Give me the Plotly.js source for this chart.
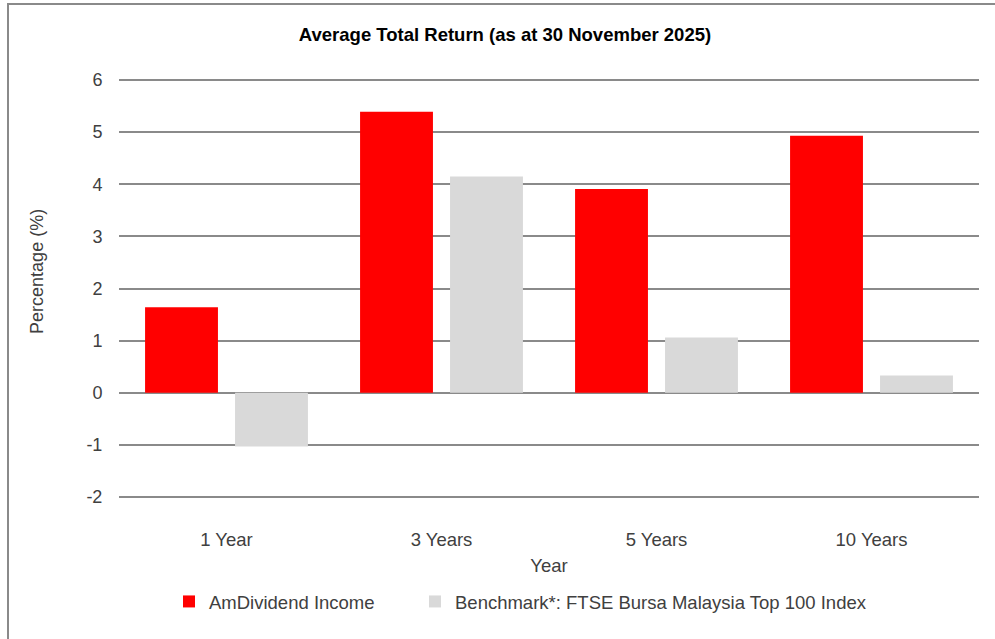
<!DOCTYPE html>
<html>
<head>
<meta charset="utf-8">
<script src="https://cdn.plot.ly/plotly-3.0.1.min.js"></script>
<style>
  html, body { margin: 0; padding: 0; background: #ffffff; }
  #wrap { position: relative; width: 995px; height: 639px; overflow: hidden; }
  #chart { position: absolute; left: 0; top: 0; width: 995px; height: 639px; }
  #frame { position: absolute; left: 7px; top: 3px; width: 1000px; height: 700px;
           border-top: 2px solid #8a8a8a; border-left: 2px solid #8a8a8a; pointer-events: none; }
</style>
</head>
<body>
<div id="wrap">
  <div id="chart"></div>
  <div id="frame"></div>
</div>
<script>
const categories = ["1 Year", "3 Years", "5 Years", "10 Years"];
const seriesNames = ["AmDividend Income", "Benchmark*: FTSE Bursa Malaysia Top 100 Index"];
const fundValues = [1.64, 5.39, 3.91, 4.93];
const benchmarkValues = [-1.03, 4.15, 1.06, 0.33];
const yTickValues = [-2, -1, 0, 1, 2, 3, 4, 5, 6];
const yTickLabels = ["-2", "-1", "0", "1", "2", "3", "4", "5", "6"];
const chartTitle = "Average Total Return (as at 30 November 2025)";
const xTitle = "Year";
const yTitle = "Percentage (%)";

const FONT = "Liberation Sans, Arial, sans-serif";
const TEXT = "#404040";
const GRID = "#8a8a8a";

const traces = [
  {
    type: "bar", name: seriesNames[0], x: categories, y: fundValues, legend: "legend",
    marker: { color: "#ff0000", line: { width: 0 } }, hoverinfo: "y"
  },
  {
    type: "bar", name: seriesNames[1], x: categories, y: benchmarkValues, legend: "legend2",
    marker: { color: "#d9d9d9", line: { width: 0 } }, hoverinfo: "y"
  }
];

const legendCommon = {
  orientation: "h", xanchor: "left", y: -0.248, yanchor: "middle",
  font: { family: FONT, size: 18.5, color: TEXT },
  bgcolor: "rgba(0,0,0,0)",
  itemclick: false, itemdoubleclick: false
};

const layout = {
  width: 995, height: 639,
  paper_bgcolor: "#ffffff", plot_bgcolor: "#ffffff",
  margin: { l: 119, r: 16, t: 79, b: 141, pad: 0 },
  font: { family: FONT, size: 16, color: TEXT },
  title: {
    text: "<b>" + chartTitle + "</b>",
    font: { family: FONT, size: 18.5, color: "#000000" },
    x: 505 / 995, xanchor: "center", xref: "container",
    y: 1 - 35 / 639, yref: "container", yanchor: "middle"
  },
  barmode: "group", bargap: 0.163, bargroupgap: 0.19,
  showlegend: true,
  legend: Object.assign({}, legendCommon, { x: (169 - 119) / 860 }),
  legend2: Object.assign({}, legendCommon, { x: (415 - 119) / 860 }),
  xaxis: {
    type: "category",
    showgrid: false, zeroline: false, showline: false,
    ticks: "outside", ticklen: 25, tickcolor: "rgba(0,0,0,0)",
    tickfont: { family: FONT, size: 18.5, color: TEXT },
    title: { text: xTitle, font: { family: FONT, size: 18.5, color: TEXT }, standoff: 9 },
    fixedrange: true
  },
  yaxis: {
    range: [-2.02, 6.02], tickmode: "array", tickvals: yTickValues, ticktext: yTickLabels,
    showgrid: true, gridcolor: GRID, gridwidth: 1.8,
    zeroline: true, zerolinecolor: GRID, zerolinewidth: 1.8,
    showline: false,
    ticks: "outside", ticklen: 12, tickcolor: "rgba(0,0,0,0)",
    tickfont: { family: FONT, size: 18, color: TEXT },
    fixedrange: true
  },
  annotations: [
    {
      text: yTitle, textangle: -90, showarrow: false,
      xref: "paper", yref: "paper",
      x: (37 - 119) / 860, y: (496 - 271) / 417, xanchor: "center", yanchor: "middle",
      font: { family: FONT, size: 18, color: TEXT }
    }
  ]
};

Plotly.newPlot("chart", traces, layout, { displayModeBar: false, responsive: false });
</script>
</body>
</html>
